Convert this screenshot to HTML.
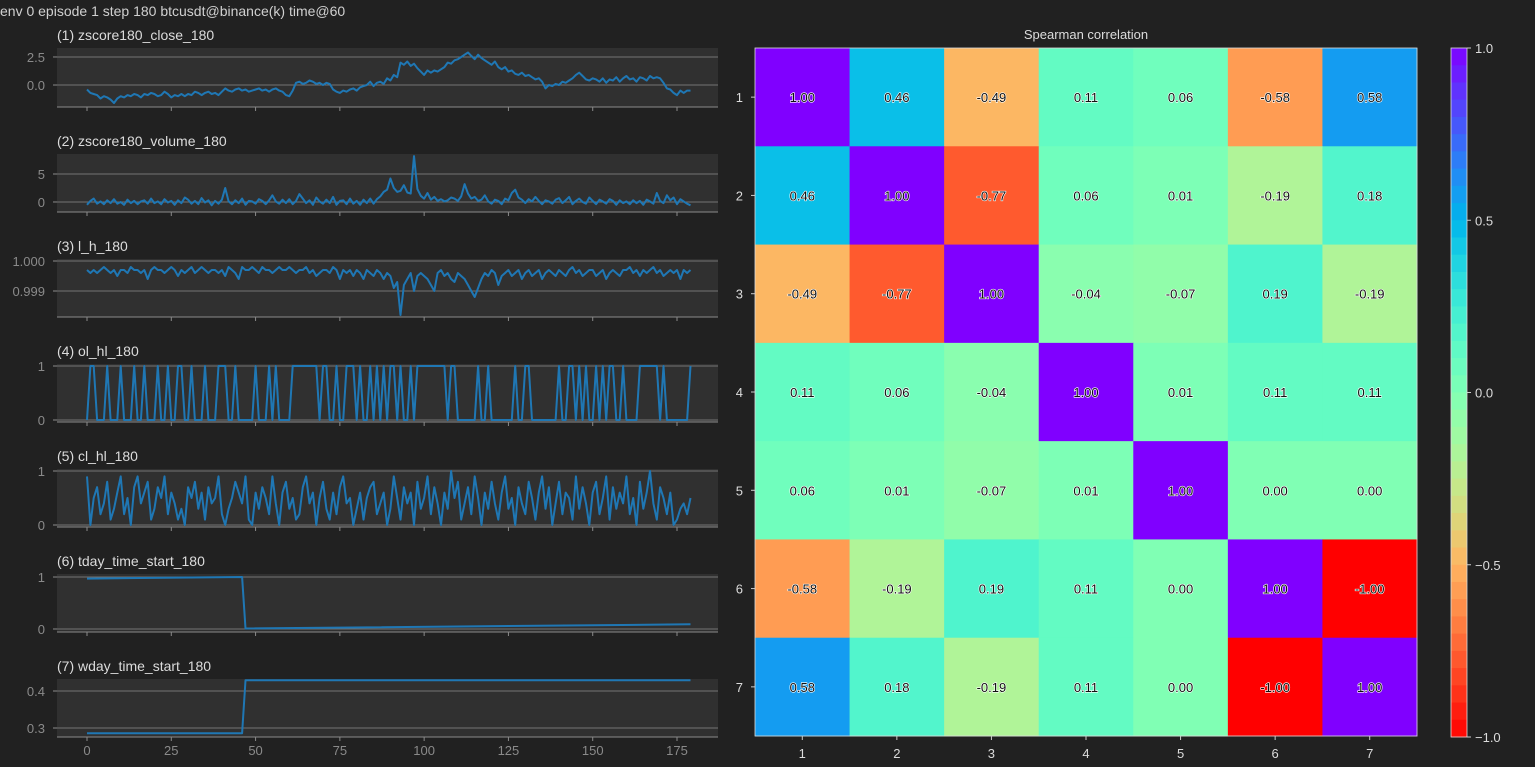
<!DOCTYPE html>
<html><head><meta charset="utf-8"><style>
html,body{margin:0;padding:0;background:#212121;}
svg{display:block;font-family:"Liberation Sans","DejaVu Sans",sans-serif;}
</style></head><body>
<svg id="root" width="1535" height="767" viewBox="0 0 1535 767">
<rect x="0" y="0" width="1535" height="767" fill="#212121"/>
<text x="0" y="16" fill="#d0d0d0" font-size="14">env 0 episode 1 step 180 btcusdt@binance(k) time@60</text>
<g id="left"></g>
<g id="heat"></g>
<g id="cbar"></g>
</svg>
<script>
const NS="http://www.w3.org/2000/svg";
const closeVals=[-0.4,-0.7,-0.8,-0.9,-1.2,-1.0,-1.1,-1.3,-1.6,-1.2,-1.0,-1.1,-0.9,-1.0,-0.8,-0.9,-1.1,-0.8,-0.9,-0.7,-0.8,-1.0,-0.9,-0.6,-0.8,-1.1,-0.9,-1.0,-0.8,-1.0,-0.8,-0.9,-0.6,-0.7,-0.9,-0.7,-0.6,-0.8,-0.7,-0.9,-0.6,-0.3,-0.5,-0.6,-0.4,-0.3,-0.5,-0.4,-0.6,-0.5,-0.4,-0.3,-0.5,-0.4,-0.6,-0.4,-0.3,-0.5,-0.6,-0.9,-1.0,-0.5,0.2,0.3,0.1,0.2,0.4,0.3,0.1,0.2,0.0,0.2,0.1,-0.4,-0.6,-0.7,-0.5,-0.6,-0.4,-0.3,-0.5,-0.2,-0.1,0.0,0.3,-0.1,0.2,0.3,0.1,0.6,0.4,0.9,0.7,2.0,1.8,2.1,1.7,1.9,1.5,1.2,0.9,1.3,1.1,1.3,1.2,1.4,1.6,2.0,1.9,2.2,2.3,2.5,2.7,2.9,2.6,2.3,2.7,2.4,2.2,2.0,1.8,2.1,1.6,1.4,1.6,1.2,1.3,1.0,0.9,1.1,0.8,0.9,0.7,0.5,0.6,0.3,-0.3,0.0,-0.1,0.1,0.0,0.3,0.2,0.4,0.6,0.9,1.1,0.8,0.5,0.4,0.6,0.5,0.3,0.6,0.2,0.5,0.4,0.7,0.3,0.6,0.8,0.5,0.6,0.3,0.7,0.6,0.4,0.8,0.6,0.7,0.6,0.2,-0.3,-0.4,-0.7,-0.9,-0.5,-0.7,-0.5,-0.5];
const volumeVals=[-0.5,0.2,0.6,-0.3,0.1,-0.4,0.3,-0.2,0.5,-0.3,0.0,-0.5,0.4,-0.2,0.2,-0.4,0.1,0.3,-0.3,0.6,-0.2,0.1,-0.4,0.5,-0.1,0.2,-0.5,0.3,-0.2,0.8,0.4,-0.3,0.2,-0.4,0.7,-0.1,0.3,-0.6,0.2,-0.3,0.4,2.5,0.1,-0.4,0.3,-0.2,0.6,-0.5,0.2,0.1,-0.3,0.5,0.2,-0.4,0.3,1.2,0.1,-0.3,0.4,-0.2,0.5,-0.4,0.2,1.4,0.6,-0.2,0.3,-0.5,0.8,0.1,-0.3,0.4,-0.2,0.9,-0.5,0.2,0.3,-0.4,0.6,-0.3,0.2,-0.5,0.4,-0.2,0.6,-0.3,0.5,1.0,1.8,2.2,4.2,2.5,1.8,2.0,3.0,1.7,1.5,8.2,2.3,1.1,0.6,1.6,0.4,0.9,0.2,0.5,0.1,0.3,0.8,0.6,0.2,1.0,3.2,1.5,0.6,0.9,0.2,0.4,1.2,0.1,-0.3,0.4,0.2,-0.4,0.6,0.3,1.6,2.2,0.8,0.4,-0.2,0.5,0.1,0.9,0.2,-0.4,0.3,0.1,-0.3,0.4,0.7,-0.2,0.3,0.9,-0.4,0.2,0.6,0.0,-0.3,0.8,0.2,-0.4,0.4,0.1,-0.3,0.5,0.2,-0.5,0.3,-0.2,0.1,-0.4,0.3,-0.2,0.2,-0.5,0.4,0.1,-0.3,1.6,0.2,-0.2,1.2,0.3,0.8,-0.4,0.5,0.1,-0.3,-0.6];
const lhBpBelowOne=[3,4,3,4,3,2,3,4,3,5,3,3,4,2,3,3,4,3,6,3,2,3,3,4,3,2,3,5,3,4,3,2,4,3,2,3,4,3,3,4,3,5,2,3,4,6,2,3,3,2,3,4,2,3,3,4,3,2,3,3,2,3,4,3,3,2,4,3,5,4,3,3,4,2,3,6,3,4,3,5,3,4,6,3,4,5,3,4,6,4,5,9,7,18,8,6,4,10,5,4,5,6,8,10,4,3,5,4,6,7,4,5,6,8,10,12,9,6,4,5,3,4,8,5,4,3,5,4,3,6,4,3,5,4,3,6,4,3,4,5,3,4,5,3,2,4,3,5,4,3,3,5,4,3,6,4,3,4,5,3,3,2,4,3,5,3,4,3,2,4,3,5,4,3,4,3,6,3,4,3];
const olhlVals=[0,1,1,0,0,0,1,0,0,0,1,0,0,0,1,0,0,1,0,0,0,1,0,0,1,0,0,1,1,0,0,1,0,0,0,1,0,0,0,1,1,1,0,0,1,0,0,0,0,0,1,0,0,0,1,0,1,0,0,0,0,1,1,1,1,1,1,1,1,0,1,1,0,0,1,0,0,1,1,1,0,1,0,0,1,0,1,0,1,0,1,1,0,1,0,0,1,0,1,1,1,1,1,1,1,1,1,0,1,1,0,0,0,0,0,0,1,0,0,1,0,0,0,0,0,0,0,1,0,0,1,1,0,0,0,0,0,0,0,0,1,0,0,1,1,0,1,0,1,0,0,1,0,1,0,1,1,0,0,1,0,0,0,0,1,1,1,1,1,1,0,1,0,0,0,0,0,0,0,1];
const clhlVals=[.9,.0,.5,.7,.2,.4,.8,.1,.3,.6,.9,.2,.5,.0,.7,.9,.4,.6,.8,.1,.3,.7,.5,.9,.2,.6,.4,.1,.3,.0,.7,.5,.8,.3,.6,.1,.7,.4,.5,.9,.2,.0,.3,.5,.8,.6,.4,.9,.1,.0,.6,.3,.7,.5,.2,.9,.4,.0,.6,.8,.3,.5,.1,.2,.7,.9,.4,.6,.0,.5,.8,.3,.1,.6,.2,.7,.9,.4,.5,.0,.3,.6,.1,.5,.7,.8,.2,.4,.6,.0,.3,.9,.5,.1,.7,.4,.6,.0,.8,.3,.5,.9,.2,.7,.4,.0,.6,.3,1.0,.5,.8,.1,.4,.7,.2,.9,.5,.0,.6,.3,.8,.4,.1,.6,.9,.3,.5,.0,.7,.4,.2,.8,.5,.1,.6,.9,.3,.7,.0,.4,.8,.2,.6,.5,.1,.9,.3,.7,.4,.0,.6,.8,.2,.5,.9,.1,.7,.3,.6,.4,.9,.2,.5,.0,.8,.3,.6,1.0,.4,.1,.7,.5,.2,.6,.0,.1,.3,.4,.2,.5];
const tdayX=[0,46,47,179];
const tdayVals=[0.97,1.0,0.01,0.09];
const wdayX=[0,46,47,179];
const wdayVals=[0.286,0.286,0.429,0.429];
const xTicks=[0,25,50,75,100,125,150,175];
const corrLabels=["1","2","3","4","5","6","7"];
const corr=[
[1.00,0.46,-0.49,0.11,0.06,-0.58,0.58],
[0.46,1.00,-0.77,0.06,0.01,-0.19,0.18],
[-0.49,-0.77,1.00,-0.04,-0.07,0.19,-0.19],
[0.11,0.06,-0.04,1.00,0.01,0.11,0.11],
[0.06,0.01,-0.07,0.01,1.00,0.00,0.00],
[-0.58,-0.19,0.19,0.11,0.00,1.00,-1.00],
[0.58,0.18,-0.19,0.11,0.00,-1.00,1.00]];
const cbarTicks=[1.0,0.5,0.0,-0.5,-1.0];

function el(tag,attrs,parent,text){const e=document.createElementNS(NS,tag);for(const k in attrs)e.setAttribute(k,attrs[k]);if(text!==undefined)e.textContent=text;parent.appendChild(e);return e;}
const left=document.getElementById('left');
const X0=57,X1=718;
const xs=v=>87+(v/175)*(677-87);
const panels=[
 {t:"(1) zscore180_close_180",top:48,bot:107,ymin:-1.96,ymax:3.30,ticks:[2.5,0],lbl:["2.5","0.0"],x:null,y:closeVals},
 {t:"(2) zscore180_volume_180",top:154,bot:212,ymin:-1.79,ymax:8.57,ticks:[5,0],lbl:["5","0"],x:null,y:volumeVals},
 {t:"(3) l_h_180",top:259,bot:317,ymin:-18.67,ymax:0.67,ticks:[0,-10],lbl:["1.000","0.999"],x:null,y:lhBpBelowOne.map(d=>-d)},
 {t:"(4) ol_hl_180",top:364,bot:422,ymin:-0.037,ymax:1.037,ticks:[1,0],lbl:["1","0"],x:null,y:olhlVals},
 {t:"(5) cl_hl_180",top:469,bot:527,ymin:-0.037,ymax:1.037,ticks:[1,0],lbl:["1","0"],x:null,y:clhlVals},
 {t:"(6) tday_time_start_180",top:574,bot:632,ymin:-0.058,ymax:1.058,ticks:[1,0],lbl:["1","0"],x:tdayX,y:tdayVals},
 {t:"(7) wday_time_start_180",top:679,bot:737,ymin:0.2757,ymax:0.4324,ticks:[0.4,0.3],lbl:["0.4","0.3"],x:wdayX,y:wdayVals}];
panels.forEach((p,i)=>{
 const g=el('g',{},left);
 
 
 const r=el('rect',{x:X0,y:p.top,width:X1-X0,height:p.bot-p.top,fill:'#303030'},g);
 
 const ys=v=>p.bot-(v-p.ymin)/(p.ymax-p.ymin)*(p.bot-p.top);
 const tt=el('text',{x:X0,y:p.top-8,fill:'#dcdcdc','font-size':14},g,p.t);
 
 p.ticks.forEach((v,j)=>{
  const y=ys(v);
  const gl=el('line',{x1:X0,x2:X1,y1:y,y2:y,stroke:'#8a8a8a','stroke-width':0.8},g);
  
  el('line',{x1:X0-4,x2:X0,y1:y,y2:y,stroke:'#8a8a8a'},g);
  const tl=el('text',{x:X0-12,y:y+5,fill:'#8a8a8a','font-size':13,'text-anchor':'end'},g,p.lbl[j]);
  
 });
 el('line',{x1:X0,x2:X1,y1:p.bot,y2:p.bot,stroke:'#8a8a8a'},g);
 let d='';
 p.y.forEach((v,k)=>{const xv=p.x?p.x[k]:k;d+=(k?'L':'M')+xs(xv).toFixed(1)+' '+ys(v).toFixed(1);});
 const path=el('path',{d:d,fill:'none',stroke:'#1f77b4','stroke-width':2,'stroke-linejoin':'round'},g);
 
 xTicks.forEach(v=>{el('line',{x1:xs(v),x2:xs(v),y1:p.bot,y2:p.bot+4,stroke:'#8a8a8a'},g);});
 if(i===6){xTicks.forEach(v=>{const t=el('text',{x:xs(v),y:755,fill:'#8a8a8a','font-size':13,'text-anchor':'middle'},g,String(v));
  });}
});

function cmap(v){const x=(1-v)/2;let r=Math.min(1,Math.abs(2*x-0.5)),gg=Math.sin(Math.PI*x),b=Math.cos(Math.PI*x/2);
 return 'rgb('+Math.round(r*255)+','+Math.round(Math.max(0,gg)*255)+','+Math.round(Math.max(0,b)*255)+')';}
const HX0=755,HX1=1417,HY0=48,HY1=736,n=corrLabels.length;
const cw=(HX1-HX0)/n,ch=(HY1-HY0)/n;
const heat=document.getElementById('heat');
const ht=el('text',{x:(HX0+HX1)/2,y:39,fill:'#dcdcdc','font-size':13,'text-anchor':'middle'},heat,'Spearman correlation');

corr.forEach((row,i)=>row.forEach((v,j)=>{
 const c=el('rect',{x:HX0+j*cw,y:HY0+i*ch,width:cw+0.5,height:ch+0.5,fill:cmap(v)},heat);
 
 const t=el('text',{x:HX0+(j+0.5)*cw,y:HY0+(i+0.5)*ch+5,fill:'#111','font-size':13,'text-anchor':'middle',stroke:'#ffffff','stroke-width':1.2,'paint-order':'stroke'},heat,v.toFixed(2));
 
}));
el('rect',{x:HX0,y:HY0,width:HX1-HX0,height:HY1-HY0,fill:'none',stroke:'#ddd','stroke-width':0.8},heat);
corrLabels.forEach((l,k)=>{
 const cx=HX0+(k+0.5)*cw,cy=HY0+(k+0.5)*ch;
 el('line',{x1:cx,x2:cx,y1:HY1,y2:HY1+4,stroke:'#ccc'},heat);
 const a=el('text',{x:cx,y:HY1+22,fill:'#dcdcdc','font-size':13,'text-anchor':'middle'},heat,l);
 
 el('line',{x1:HX0-4,x2:HX0,y1:cy,y2:cy,stroke:'#ccc'},heat);
 const b=el('text',{x:HX0-12,y:cy+5,fill:'#dcdcdc','font-size':13,'text-anchor':'end'},heat,l);
 
});
const cb=document.getElementById('cbar');
const CX=1451,CW=16,CY0=48,CY1=737,steps=40;
for(let s=0;s<steps;s++){
 const v=1-(s+0.5)*2/steps;
 const r=el('rect',{x:CX,y:CY0+s*(CY1-CY0)/steps,width:CW,height:(CY1-CY0)/steps+0.5,fill:cmap(v)},cb);
 
}
el('rect',{x:CX,y:CY0,width:CW,height:CY1-CY0,fill:'none',stroke:'#ddd','stroke-width':0.8},cb);
cbarTicks.forEach(v=>{const y=CY0+(1-v)/2*(CY1-CY0);
 el('line',{x1:CX+CW,x2:CX+CW+4,y1:y,y2:y,stroke:'#ccc'},cb);
 const t=el('text',{x:CX+CW+8,y:y+5,fill:'#dcdcdc','font-size':13},cb,(v<0?'\u2212'+Math.abs(v).toFixed(1):v.toFixed(1)));
 });
</script>
</body></html>
